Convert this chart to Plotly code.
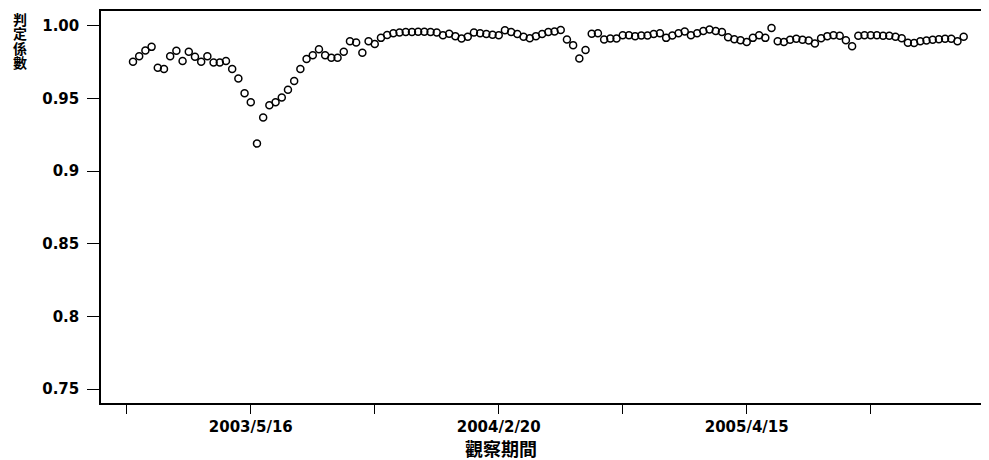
import plotly.graph_objects as go

obs_index = list(range(1, 136))
r_squared = [
    0.9753, 0.9792, 0.9831, 0.9856, 0.9712, 0.9703, 0.9792, 0.9829, 0.9758, 0.9822,
    0.9788, 0.9753, 0.9792, 0.9749, 0.9748, 0.9758, 0.9703, 0.9639, 0.9536, 0.9475,
    0.9190, 0.9370, 0.9454, 0.9475, 0.9507, 0.9560, 0.9621, 0.9703, 0.9772, 0.9799,
    0.9840, 0.9799, 0.9781, 0.9781, 0.9822, 0.9895, 0.9886, 0.9815, 0.9895, 0.9875,
    0.9918, 0.9938, 0.9950, 0.9955, 0.9958, 0.9958, 0.9960, 0.9960, 0.9958, 0.9955,
    0.9936, 0.9947, 0.9930, 0.9913, 0.9925, 0.9955, 0.9950, 0.9945, 0.9940, 0.9936,
    0.9970, 0.9958, 0.9945, 0.9925, 0.9915, 0.9930, 0.9945, 0.9958, 0.9962, 0.9972,
    0.9906, 0.9868, 0.9776, 0.9834, 0.9947, 0.9950, 0.9906, 0.9913, 0.9913, 0.9936,
    0.9936, 0.9930, 0.9935, 0.9935, 0.9945, 0.9950, 0.9918, 0.9935, 0.9950, 0.9962,
    0.9936, 0.9950, 0.9965, 0.9975, 0.9965, 0.9958, 0.9922, 0.9909, 0.9902, 0.9890,
    0.9918, 0.9936, 0.9918, 0.9986, 0.9895, 0.9890, 0.9905, 0.9912, 0.9905, 0.9900,
    0.9880, 0.9915, 0.9930, 0.9936, 0.9932, 0.9902, 0.9861, 0.9932, 0.9936, 0.9936,
    0.9936, 0.9932, 0.9932, 0.9925, 0.9915, 0.9885, 0.9882, 0.9895, 0.9900, 0.9905,
    0.9909, 0.9912, 0.9912, 0.9895, 0.9925,
]

x_tick_vals = [0, 20, 40, 60, 80, 100, 120]
x_tick_text = ["", "2003/5/16", "", "2004/2/20", "", "2005/4/15", ""]
y_tick_vals = [0.75, 0.80, 0.85, 0.90, 0.95, 1.00]
y_tick_text = ["0.75", "0.8", "0.85", "0.9", "0.95", "1.00"]
y_title_chars = ["判", "定", "係", "數"]
x_title = "觀察期間"

fig = go.Figure()
fig.add_trace(go.Scatter(
    x=obs_index, y=r_squared, mode="markers",
    marker=dict(symbol="circle-open", size=7, color="black", line=dict(width=1.5, color="black")),
    showlegend=False, hoverinfo="x+y",
))

tick_font = dict(family="DejaVu Sans", size=15, color="black", weight="bold")

# page body has an 8px margin: figure drawn 8px smaller and margins shifted
PW, PH = 886, 394
fig.update_layout(
    width=981, height=452,
    margin=dict(l=93, r=2, t=1, b=57),
    paper_bgcolor="white", plot_bgcolor="white",
    xaxis=dict(
        range=[-4.16, 138.6], tickmode="array", tickvals=x_tick_vals, ticktext=x_tick_text,
        ticks="outside", ticklen=9, tickwidth=1.3, tickcolor="black",
        showline=True, linecolor="black", linewidth=1.5, mirror=True,
        showgrid=False, zeroline=False, tickfont=tick_font, ticklabelstandoff=0,
    ),
    yaxis=dict(
        range=[0.7404, 1.0103], tickmode="array", tickvals=y_tick_vals, ticktext=y_tick_text,
        ticks="outside", ticklen=12, tickwidth=1.3, tickcolor="black",
        showline=True, linecolor="black", linewidth=1.5, mirror=True,
        showgrid=False, zeroline=False, tickfont=tick_font, ticklabelstandoff=5,
    ),
)

y_centers = [17, 31.5, 46, 60.5]
for ch, yc in zip(y_title_chars, y_centers):
    fig.add_annotation(
        text=ch, xref="paper", yref="paper", x=(19.5 - 101) / PW, y=(403 - yc) / PH,
        xanchor="center", yanchor="middle", showarrow=False,
        font=dict(family="Noto Sans CJK TC", size=14, color="black", weight="bold"),
    )
fig.add_annotation(
    text=x_title, xref="paper", yref="paper", x=(501 - 101) / PW, y=(403 - 448) / PH,
    xanchor="center", yanchor="middle", showarrow=False,
    font=dict(family="Noto Sans CJK TC", size=18, color="black", weight="bold"),
)

fig.write_html("out.html")
